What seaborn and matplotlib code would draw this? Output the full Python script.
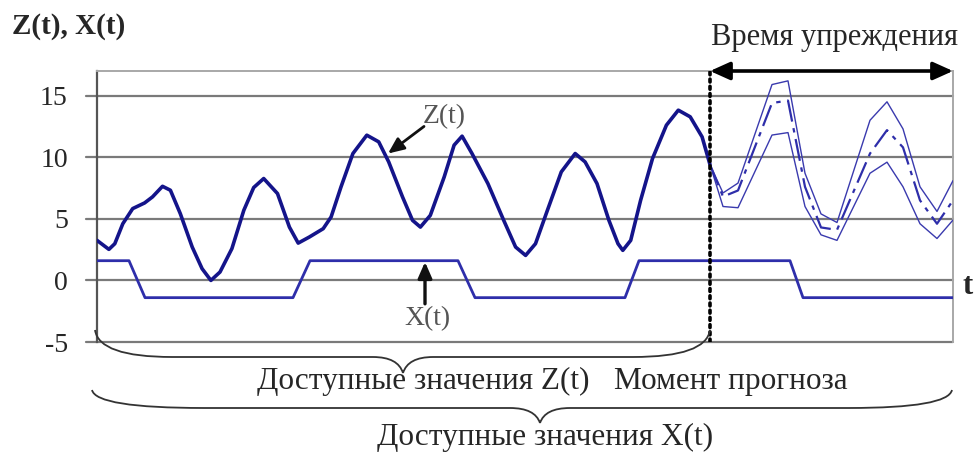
import numpy as np
import pandas as pd
import seaborn as sns
import matplotlib.pyplot as plt
from matplotlib.path import Path
from matplotlib.patches import PathPatch

# Observed process Z(t): time index and value
t_z = [0.0, 1.19, 1.78, 2.58, 3.57, 4.76, 5.55, 6.55, 7.34, 8.33, 9.52, 10.51,
       11.39, 12.3, 13.49, 14.68, 15.67, 16.67, 18.05, 19.24, 20.12, 21.23,
       22.62, 23.41, 24.4, 25.59, 26.98, 28.17, 29.17, 30.55, 31.55, 32.34,
       33.33, 34.72, 35.71, 36.51, 37.5, 39.09, 40.67, 41.86, 42.86, 43.85,
       45.04, 46.43, 47.82, 48.81, 50.0, 51.19, 52.1, 52.58, 53.37, 54.36,
       55.55, 56.94, 58.13, 59.32, 60.51, 61.3]
z_vals = [3.25, 2.52, 2.98, 4.6, 5.83, 6.29, 6.78, 7.64, 7.32, 5.42, 2.71, 0.95,
          0.0, 0.68, 2.58, 5.69, 7.54, 8.27, 7.05, 4.33, 3.03, 3.52,
          4.2, 5.15, 7.59, 10.3, 11.79, 11.25, 9.62, 6.78, 4.88, 4.33,
          5.28, 8.4, 10.98, 11.71, 10.3, 7.86, 4.88, 2.71, 2.03, 2.98,
          5.69, 8.81, 10.3, 9.62, 7.86, 4.88, 2.98, 2.44, 3.25, 6.5,
          9.89, 12.6, 13.82, 13.28, 11.65, 9.4]

# Forecast horizon: central estimate with upper and lower bounds
t_fc = [61.3, 62.6, 64.1, 67.5, 69.1, 70.8, 72.4, 74.0, 77.3, 79.0, 80.6, 82.3, 84.0, 85.6]
fc_mid = [9.4, 6.8, 7.3, 14.4, 14.6, 7.6, 4.3, 4.1, 10.3, 12.2, 10.8, 6.5, 4.6, 6.5]
fc_hi = [9.4, 7.1, 7.9, 15.9, 16.2, 8.7, 5.4, 4.7, 13.0, 14.5, 12.3, 7.6, 5.6, 8.1]
fc_lo = [9.4, 6.0, 5.9, 11.8, 12.0, 6.0, 3.7, 3.25, 8.7, 9.6, 7.6, 4.6, 3.4, 4.9]

# Control input X(t): two-level signal with ramps
t_x = [0.0, 3.2, 4.8, 19.6, 21.3, 36.1, 37.8, 52.8, 54.2, 69.3, 70.6, 85.6]
x_vals = [1.6, 1.6, -1.4, -1.4, 1.6, 1.6, -1.4, -1.4, 1.6, 1.6, -1.4, -1.4]

y_ticks = [15, 10, 5, 0, -5]
t_now = 61.3
t_end = 85.6

sns.set_theme(style="white")
plt.rcParams['font.family'] = ['Liberation Serif', 'DejaVu Serif']

W, H = 980, 454
fig = plt.figure(figsize=(W / 100, H / 100), dpi=100)
ax = fig.add_axes([97 / W, 1 - 342 / H, (953 - 97) / W, (342 - 71) / H])

df_z = pd.DataFrame({"t": t_z, "z": z_vals})
df_x = pd.DataFrame({"t": t_x, "x": x_vals})
df_fc = pd.DataFrame({"t": t_fc, "mid": fc_mid, "hi": fc_hi, "lo": fc_lo})

grid_c = "#7a7a7a"
for v in y_ticks:
    ax.axhline(v, color=grid_c, lw=1.6, zorder=1, xmin=-0.013, clip_on=False)

sns.lineplot(data=df_z, x="t", y="z", ax=ax, color="#14148a", lw=2.6,
             sort=False, estimator=None, zorder=4)
sns.lineplot(data=df_x, x="t", y="x", ax=ax, color="#2e2eaa", lw=2.0,
             sort=False, estimator=None, zorder=4)
sns.lineplot(data=df_fc, x="t", y="hi", ax=ax, color="#3a3aae", lw=1.0,
             sort=False, estimator=None, zorder=4)
sns.lineplot(data=df_fc, x="t", y="lo", ax=ax, color="#3a3aae", lw=1.0,
             sort=False, estimator=None, zorder=4)
sns.lineplot(data=df_fc, x="t", y="mid", ax=ax, color="#2e2eaa", lw=1.6,
             sort=False, estimator=None, zorder=4, linestyle=(0, (10, 3, 2, 3)))
for line in ax.get_lines():
    line.set_solid_joinstyle("round")
    line.set_solid_capstyle("round")

ax.set_xlim(0, t_end)
ax.set_ylim(-5, 17)
ax.set_yticks(y_ticks)
ax.set_yticklabels([str(v) for v in y_ticks], fontsize=20)
ax.set_xticks([])
ax.tick_params(axis='y', length=0, pad=21)
ax.set_xlabel("")
ax.set_ylabel("")

for side in ["top", "right"]:
    ax.spines[side].set_color("#a8a8a8")
    ax.spines[side].set_linewidth(1.4)
ax.spines["left"].set_color("#555555")
ax.spines["left"].set_linewidth(1.6)
ax.spines["bottom"].set_visible(False)

# forecast moment
ax.plot([t_now, t_now], [-5, 17], color="black", lw=2.6, linestyle=(0, (0.8, 1.2)),
        zorder=5, dash_capstyle="round")

# lead-time arrow
ax.annotate("", xy=(t_end, 17), xytext=(t_now, 17), xycoords="data",
            arrowprops=dict(arrowstyle="<|-|>,head_length=1.0,head_width=0.45",
                            color="black", lw=2.6, shrinkA=0, shrinkB=0),
            annotation_clip=False, zorder=6)

# series labels with pointers
ax.text(34.7, 13.3, "Z(t)", fontsize=20, color="#555555", ha="center", va="center")
ax.annotate("", xy=(29.1, 10.3), xytext=(32.7, 12.5),
            arrowprops=dict(arrowstyle="-|>,head_length=0.8,head_width=0.35",
                            color="#111111", lw=2.0, shrinkA=0, shrinkB=0))
ax.text(33.0, -3.1, "X(t)", fontsize=20, color="#555555", ha="center", va="center")
ax.annotate("", xy=(32.8, 1.5), xytext=(32.8, -1.9),
            arrowprops=dict(arrowstyle="-|>,head_length=0.8,head_width=0.35",
                            color="#111111", lw=2.4, shrinkA=0, shrinkB=0))


def px(x, y):
    return x / W, 1 - y / H


def brace(x0, x1, xm, y_end, y_mid, y_tip, lw=1.3):
    # curly brace opening upward, drawn in figure pixel coordinates
    r0 = (xm - x0) * 0.25
    r1 = (x1 - xm) * 0.25
    verts = [px(x0, y_end), px(x0 + 4, y_mid), px(x0 + r0, y_mid),
             px(xm - 30, y_mid), px(xm - 5, y_mid), px(xm, y_tip),
             px(xm, y_tip), px(xm + 5, y_mid), px(xm + 30, y_mid),
             px(x1 - r1, y_mid), px(x1 - 4, y_mid), px(x1, y_end)]
    codes = [Path.MOVETO, Path.CURVE3, Path.CURVE3,
             Path.LINETO, Path.CURVE3, Path.CURVE3,
             Path.MOVETO, Path.CURVE3, Path.CURVE3,
             Path.LINETO, Path.CURVE3, Path.CURVE3]
    fig.add_artist(PathPatch(Path(verts, codes), fill=False, lw=lw,
                             color="#333333", transform=fig.transFigure))


brace(95, 710, 403, 330, 357, 373)
brace(92, 952, 540, 390, 408, 423)

fig.text(*px(423, 381), "Доступные значения Z(t)", fontsize=22.5, ha="center", va="center")
fig.text(*px(731, 381), "Момент прогноза", fontsize=22.5, ha="center", va="center")
fig.text(*px(545, 437), "Доступные значения X(t)", fontsize=22.5, ha="center", va="center")
fig.text(*px(834, 37), "Время упреждения", fontsize=22, ha="center", va="center")
fig.text(*px(12, 27), "Z(t), X(t)", fontsize=21, fontweight="bold", ha="left", va="center")
fig.text(*px(962, 286), "t", fontsize=22, fontweight="bold", ha="left", va="center")

fig.savefig("out.png", dpi=100, facecolor="white")
